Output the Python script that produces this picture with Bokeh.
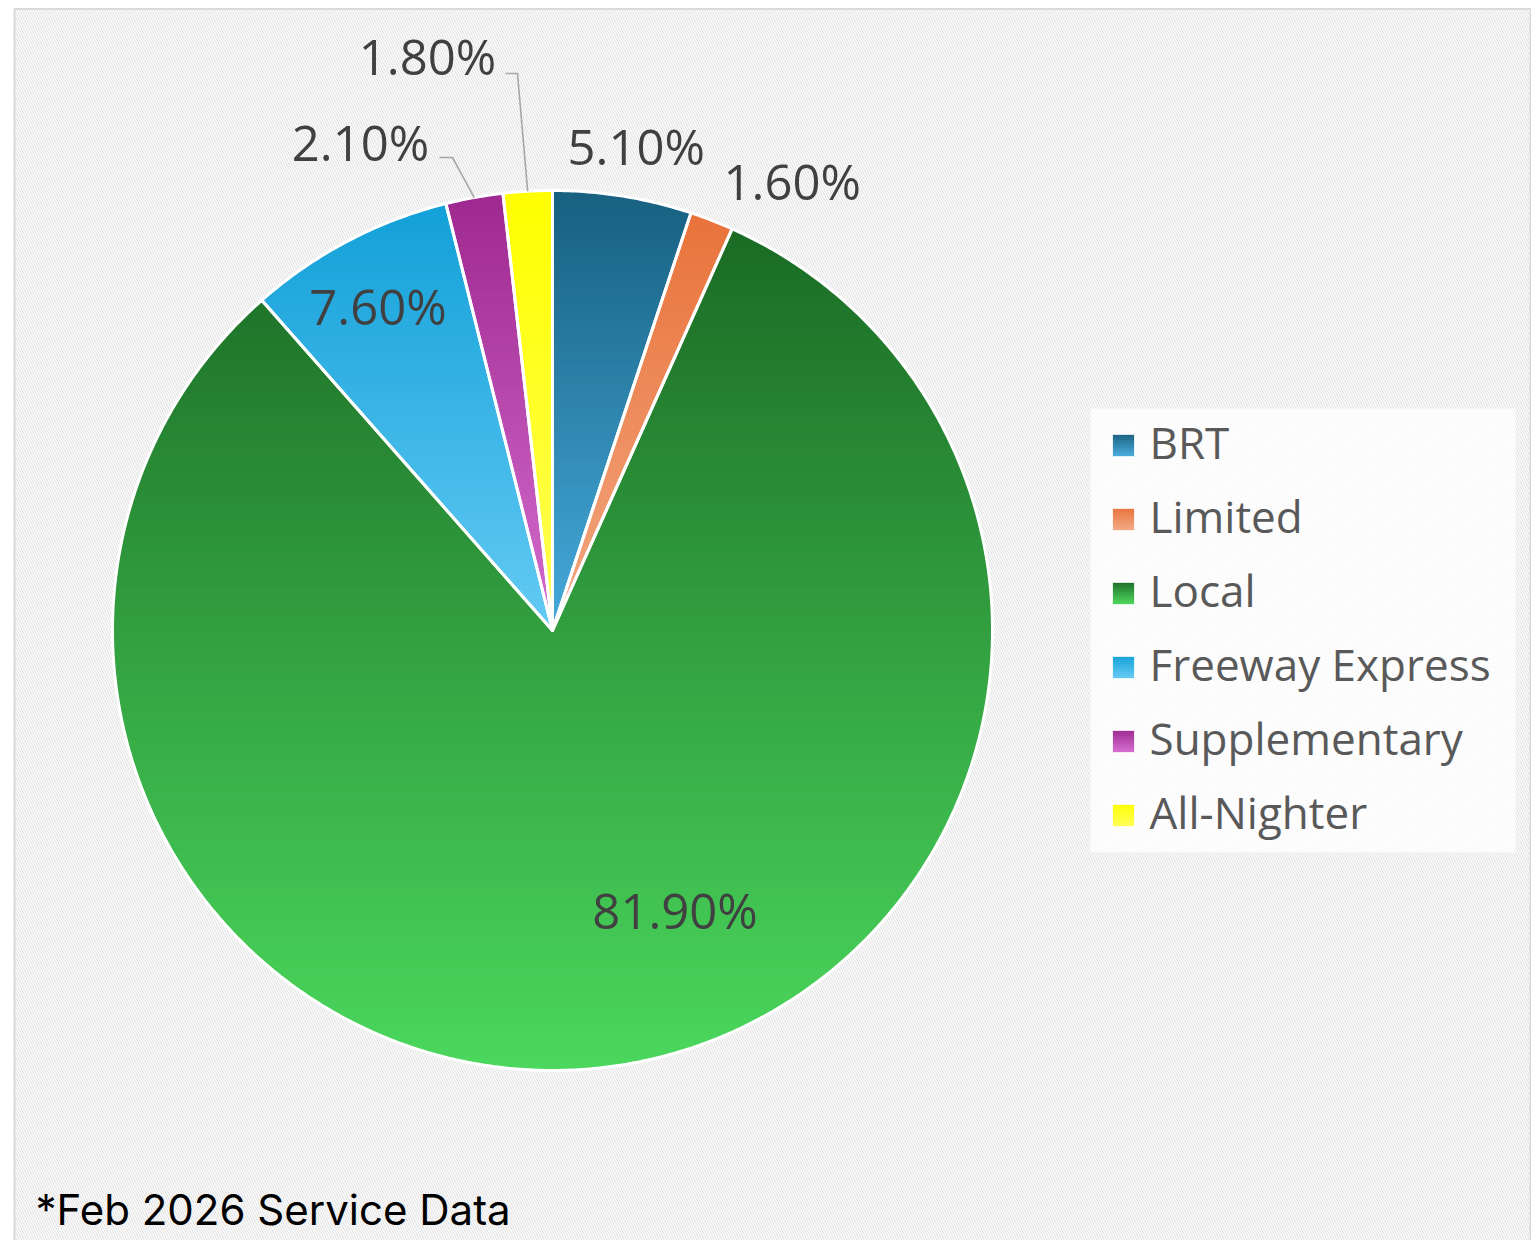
import math
import numpy as np
from bokeh.plotting import figure
from bokeh.models import Range1d
from bokeh.core.properties import value
from bokeh.embed import file_html
from bokeh.resources import INLINE

# ---------------- data ----------------
categories = ["BRT", "Limited", "Local", "Freeway Express", "Supplementary", "All-Nighter"]
shares = [5.1, 1.6, 81.9, 7.6, 2.1, 1.8]
pct_labels = ["5.10%", "1.60%", "81.90%", "7.60%", "2.10%", "1.80%"]
top_colors = ["#176080", "#e9723a", "#1b6b25", "#12a0d8", "#9e288f", "#ffff00"]
bottom_colors = ["#46aadc", "#f2a882", "#4bd85d", "#64caf4", "#d46cce", "#ffff55"]
footnote = "*Feb 2026 Service Data"

# ---------------- layout ----------------
CX, CY, R = 552.0, 630.0, 440.0
# label placement (polar: angle deg clockwise from top, radius) ; None -> leader
label_polar = [(9.8, 492), (28.1, 509), (156.3, 305), (331.7, 368), None, None]
# leader labels: text centre, elbow
leader_text = {4: (360, 141), 5: (427, 55)}
leader_elbow = {4: [(439, 157), (452, 157)], 5: [(505, 73), (517, 73)]}
LABEL_FONT = "Open Sans"
LEGEND_FONT = "Open Sans"


def hex2rgb(h):
    h = h.lstrip("#")
    return [int(h[i:i + 2], 16) for i in (0, 2, 4)]


def mix(c0, c1, t):
    a, b = hex2rgb(c0), hex2rgb(c1)
    return "#%02x%02x%02x" % tuple(int(round(a[i] + (b[i] - a[i]) * t)) for i in range(3))


def clip_half(pts, inside, ycut):
    out = []
    n = len(pts)
    for i in range(n):
        P = pts[i]
        Q = pts[(i + 1) % n]
        pin, qin = inside(P[1]), inside(Q[1])
        if pin:
            out.append(P)
        if pin != qin:
            t = (ycut - P[1]) / (Q[1] - P[1])
            out.append((P[0] + t * (Q[0] - P[0]), ycut))
    return out


def clip_band(poly, y0, y1):
    pts = clip_half(poly, lambda y: y >= y0, y0)
    if len(pts) < 3:
        return []
    pts = clip_half(pts, lambda y: y <= y1, y1)
    return pts if len(pts) >= 3 else []


def pt(angle_deg, r):
    a = math.radians(angle_deg)
    return (CX + r * math.sin(a), CY - r * math.cos(a))


total = sum(shares)
starts, ends = [], []
acc = 0.0
for s in shares:
    starts.append(acc / total * 360.0)
    acc += s
    ends.append(acc / total * 360.0)

W, H = 1531, 1240
p = figure(width=W, height=H, output_backend="svg", toolbar_location=None,
           x_range=Range1d(0, W), y_range=Range1d(H, 0), min_border=0)
p.axis.visible = False
p.grid.visible = False
p.outline_line_color = None
p.background_fill_color = "white"
p.border_fill_color = "white"

# hatched chart area background + border
p.quad(left=[14], right=[1530], top=[8.5], bottom=[1300], fill_color="white",
       hatch_pattern="\\", hatch_color="#e4e4e4", hatch_scale=5, hatch_weight=1.2,
       line_color="#d9d9d9", line_width=2)

# gradient slices
xs, ys, cs = [], [], []
outline_x, outline_y = [], []
for i in range(len(shares)):
    a0, a1 = starts[i], ends[i]
    n = max(4, int((a1 - a0) / 0.5))
    arc = [pt(a0 + (a1 - a0) * k / n, R) for k in range(n + 1)]
    poly = [(CX, CY)] + arc
    outline_x.append([q[0] for q in poly])
    outline_y.append([q[1] for q in poly])
    ymin = min(q[1] for q in poly)
    ymax = max(q[1] for q in poly)
    nb = max(8, int(math.ceil((ymax - ymin) / 3.0)))
    for b in range(nb):
        y0 = ymin + (ymax - ymin) * b / nb
        y1 = ymin + (ymax - ymin) * (b + 1) / nb
        piece = clip_band(poly, y0 - 0.6, y1 + 0.6)
        if not piece:
            continue
        xs.append([q[0] for q in piece])
        ys.append([q[1] for q in piece])
        cs.append(mix(top_colors[i], bottom_colors[i], (b + 0.5) / nb))

p.patches(xs, ys, fill_color=cs, line_color=None)
p.patches(outline_x, outline_y, fill_alpha=0, line_color="white", line_width=3, line_join="round")

# leader lines
for i, el in leader_elbow.items():
    mid = (starts[i] + ends[i]) / 2.0
    ax, ay = pt(mid, R)
    p.line([el[0][0], el[1][0], ax], [el[0][1], el[1][1], ay], line_color="#a6a6a6", line_width=1.6)

# data labels
lx, ly = [], []
for i in range(len(shares)):
    if label_polar[i] is not None:
        ang, rr = label_polar[i]
        x, y = pt(ang, rr)
    else:
        x, y = leader_text[i]
    lx.append(x)
    ly.append(y)
p.text(lx, ly, text=pct_labels, text_font=value(LABEL_FONT), text_font_size="49px",
       text_color="#404040", text_align="center", text_baseline="middle")

# legend
p.quad(left=[1090], right=[1515], top=[408], bottom=[852], fill_color="white",
       fill_alpha=0.8, line_color=None)
row_y = [445 + 74 * k for k in range(len(categories))]
sq_l, sq_r, half = 1112, 1134, 11
gx_l, gx_r, gy_t, gy_b, gc = [], [], [], [], []
for i, yc in enumerate(row_y):
    nb = 11
    for b in range(nb):
        gx_l.append(sq_l)
        gx_r.append(sq_r)
        gy_t.append(yc - half + 2 * b - 0.3)
        gy_b.append(yc - half + 2 * (b + 1) + 0.3)
        gc.append(mix(top_colors[i], bottom_colors[i], (b + 0.5) / nb))
p.quad(left=gx_l, right=gx_r, top=gy_t, bottom=gy_b, fill_color=gc, line_color=None)
p.quad(left=[sq_l] * len(row_y), right=[sq_r] * len(row_y),
       top=[y - half for y in row_y], bottom=[y + half for y in row_y],
       fill_alpha=0, line_color="white", line_width=1, line_alpha=0.8)
p.text([1149] * len(categories), [y - 4 for y in row_y], text=categories,
       text_font=value(LEGEND_FONT), text_font_size="44px", text_color="#595959",
       text_align="left", text_baseline="middle")

# footnote
p.text([35], [1209], text=[footnote], text_font=value("Inter"), text_font_size="42px",
       text_color="#000000", text_align="left", text_baseline="middle")

open("out.html", "w").write(file_html(p, INLINE))
